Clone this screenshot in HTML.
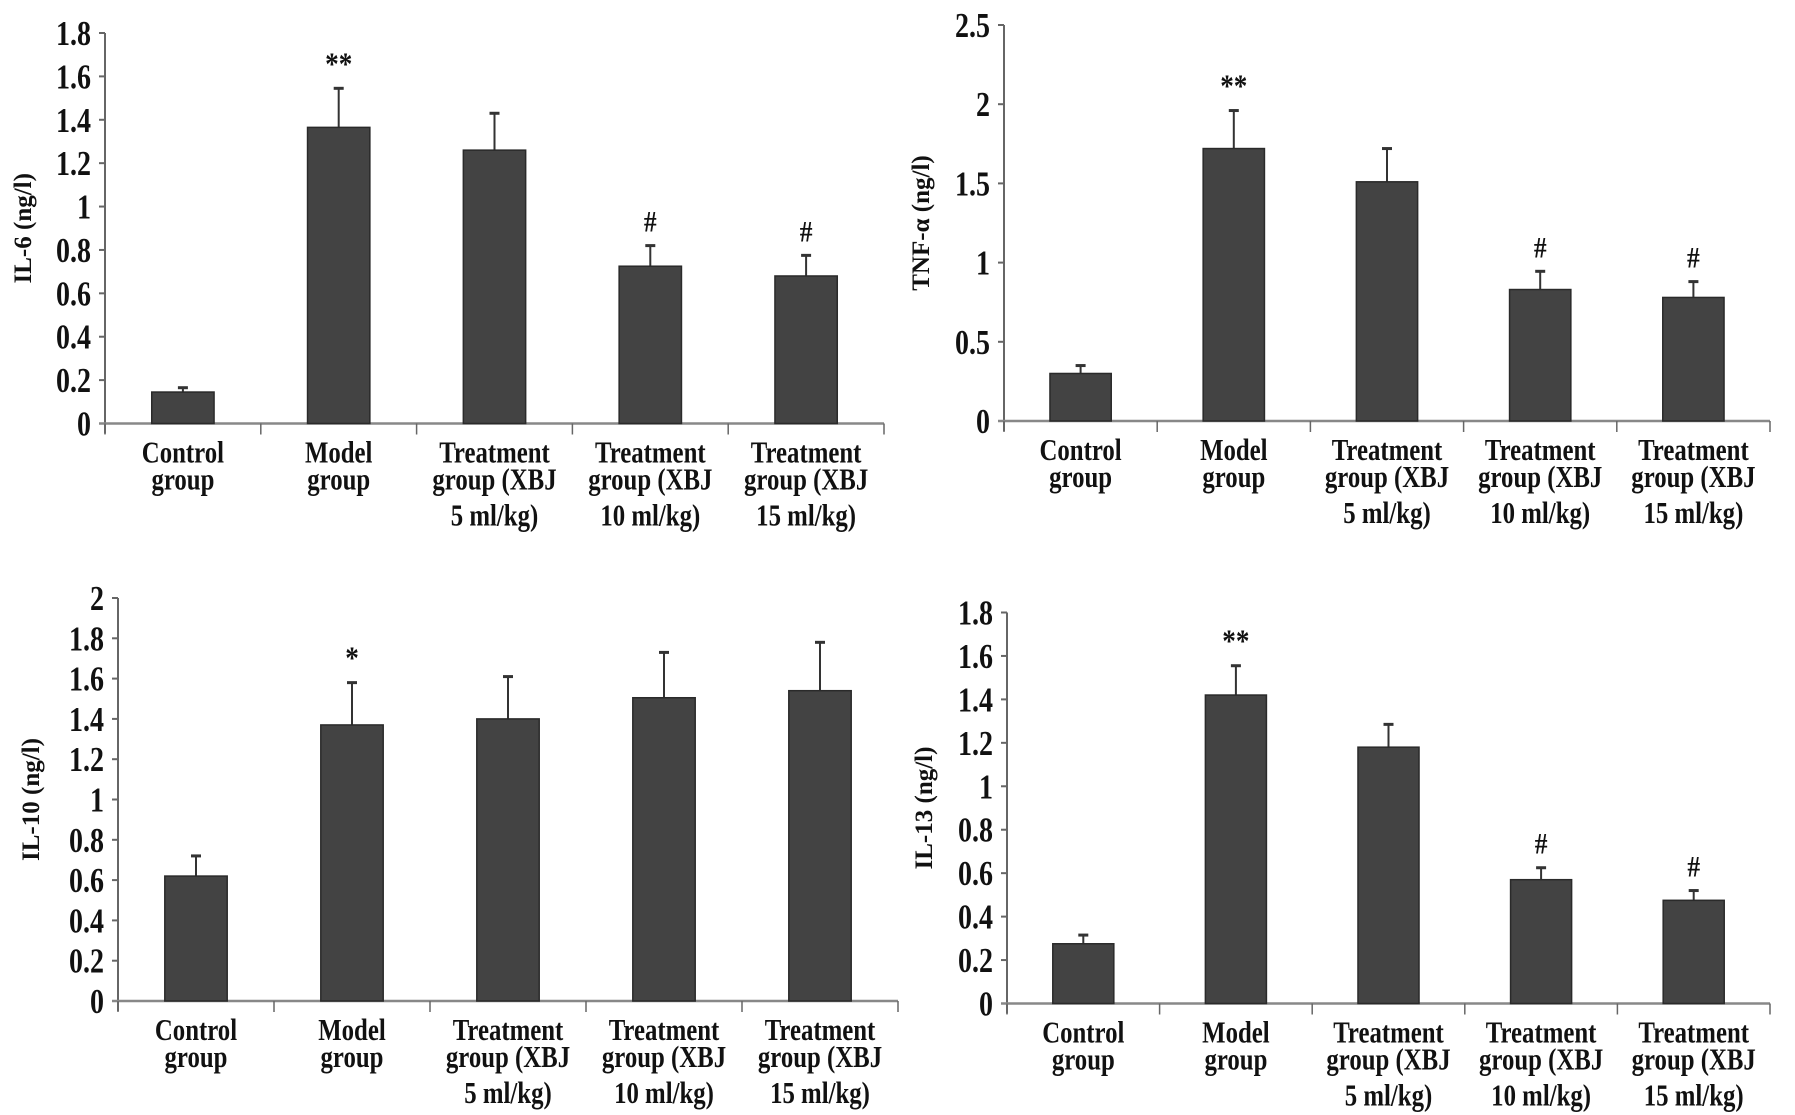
<!DOCTYPE html>
<html><head><meta charset="utf-8"><style>
html,body{margin:0;padding:0;background:#fff;}
svg{display:block;}
text{font-family:"Liberation Serif",serif;font-weight:bold;fill:#111;}
</style></head><body>
<svg id="fig" width="1795" height="1115" viewBox="0 0 1795 1115"></svg>
<script>
const categories = [["Control","group"],["Model","group"],["Treatment","group (XBJ","5 ml/kg)"],["Treatment","group (XBJ","10 ml/kg)"],["Treatment","group (XBJ","15 ml/kg)"]];
const il6Values = [0.145, 1.365, 1.26, 0.725, 0.68];
const il6Errors = [0.165, 1.545, 1.43, 0.82, 0.775];
const il6Marks = ["", "**", "", "#", "#"];
const il6Ticks = ["0","0.2","0.4","0.6","0.8","1","1.2","1.4","1.6","1.8"];
const tnfValues = [0.30, 1.72, 1.51, 0.83, 0.78];
const tnfErrors = [0.35, 1.96, 1.72, 0.945, 0.88];
const tnfMarks = ["", "**", "", "#", "#"];
const tnfTicks = ["0","0.5","1","1.5","2","2.5"];
const il10Values = [0.62, 1.37, 1.40, 1.505, 1.54];
const il10Errors = [0.72, 1.58, 1.61, 1.73, 1.78];
const il10Marks = ["", "*", "", "", ""];
const il10Ticks = ["0","0.2","0.4","0.6","0.8","1","1.2","1.4","1.6","1.8","2"];
const il13Values = [0.275, 1.42, 1.18, 0.57, 0.475];
const il13Errors = [0.315, 1.555, 1.285, 0.625, 0.52];
const il13Marks = ["", "**", "", "#", "#"];
const il13Ticks = ["0","0.2","0.4","0.6","0.8","1","1.2","1.4","1.6","1.8"];

const NS = "http://www.w3.org/2000/svg";
const svg = document.getElementById("fig");
function mk(tag, attrs, parent){const e=document.createElementNS(NS,tag);for(const k in attrs)e.setAttribute(k,attrs[k]);(parent||svg).appendChild(e);return e;}
function txt(parent, x, y, s, size, anchor, sx){
  return mk("text",{x:0,y:0,"text-anchor":anchor,"font-size":size,transform:`translate(${x} ${y}) scale(${sx} 1)`},parent);
}

function drawChart(cfg, values, errors, marks, ticks, title){
  const g = mk("g",{});
  
  
  const maxV = parseFloat(ticks[ticks.length-1]);
  const y = v => cfg.y0 - (v/maxV)*(cfg.y0-cfg.yTop);
  const cw = (cfg.x1-cfg.x0)/categories.length;
  const xc = i => cfg.x0 + cw*(i+0.5);
  const ya = mk("line",{x1:cfg.x0,y1:cfg.yTop,x2:cfg.x0,y2:cfg.y0+10,stroke:"#666","stroke-width":2},g);
  
  
  ticks.forEach(t=>{
    const v=parseFloat(t), yy=y(v);
    mk("line",{x1:cfg.x0-6,y1:yy,x2:cfg.x0,y2:yy,stroke:"#666","stroke-width":2},g);
    const tl=txt(g,cfg.x0-14,yy+12,t,35,"end",0.8);
    tl.textContent=t;
    
    
  });
  const xa = mk("line",{x1:cfg.x0-6,y1:cfg.y0,x2:cfg.x1,y2:cfg.y0,stroke:"#888","stroke-width":2.5},g);
  
  
  for(let i=0;i<=categories.length;i++){
    const xx=cfg.x0+cw*i;
    mk("line",{x1:xx,y1:cfg.y0,x2:xx,y2:cfg.y0+11,stroke:"#666","stroke-width":1.5},g);
  }
  const bw = cw*0.4;
  values.forEach((v,i)=>{
    const eb = mk("line",{x1:xc(i),y1:y(errors[i]),x2:xc(i),y2:y(v),stroke:"#333","stroke-width":2},g);
    
    
    mk("line",{x1:xc(i)-5,y1:y(errors[i]),x2:xc(i)+5,y2:y(errors[i]),stroke:"#333","stroke-width":3},g);
    const b = mk("rect",{x:xc(i)-bw/2,y:y(v),width:bw,height:cfg.y0-y(v),fill:"#434343",stroke:"#2a2a2a","stroke-width":1.5},g);
    
    
    if(marks[i]){
      const m = txt(g,xc(i),y(errors[i])-14,marks[i],marks[i]==="#"?30:32,"middle",0.85);
      m.textContent=marks[i];
      
      
    }
    const offs=[39,66,102];
    categories[i].forEach((line,j)=>{
      const t = txt(g,xc(i),cfg.y0+offs[j],line,31,"middle",0.8);
      t.textContent=line;
      
      
    });
  });
  const ty = (cfg.y0+cfg.yTop)/2;
  const tt = mk("text",{x:cfg.titleX,y:ty,"text-anchor":"middle","font-size":25,transform:`rotate(-90 ${cfg.titleX} ${ty})`},g);
  tt.textContent=title;
  
  
}
drawChart({name:"il6-chart",x0:105,x1:884,y0:423.5,yTop:33,titleX:31},il6Values,il6Errors,il6Marks,il6Ticks,"IL-6 (ng/l)");
drawChart({name:"tnf-chart",x0:1004,x1:1770,y0:421,yTop:25,titleX:929},tnfValues,tnfErrors,tnfMarks,tnfTicks,"TNF-α (ng/l)");
drawChart({name:"il10-chart",x0:118,x1:898,y0:1001,yTop:598,titleX:39},il10Values,il10Errors,il10Marks,il10Ticks,"IL-10 (ng/l)");
drawChart({name:"il13-chart",x0:1007,x1:1770,y0:1003.5,yTop:612.5,titleX:932},il13Values,il13Errors,il13Marks,il13Ticks,"IL-13 (ng/l)");
</script>
</body></html>
